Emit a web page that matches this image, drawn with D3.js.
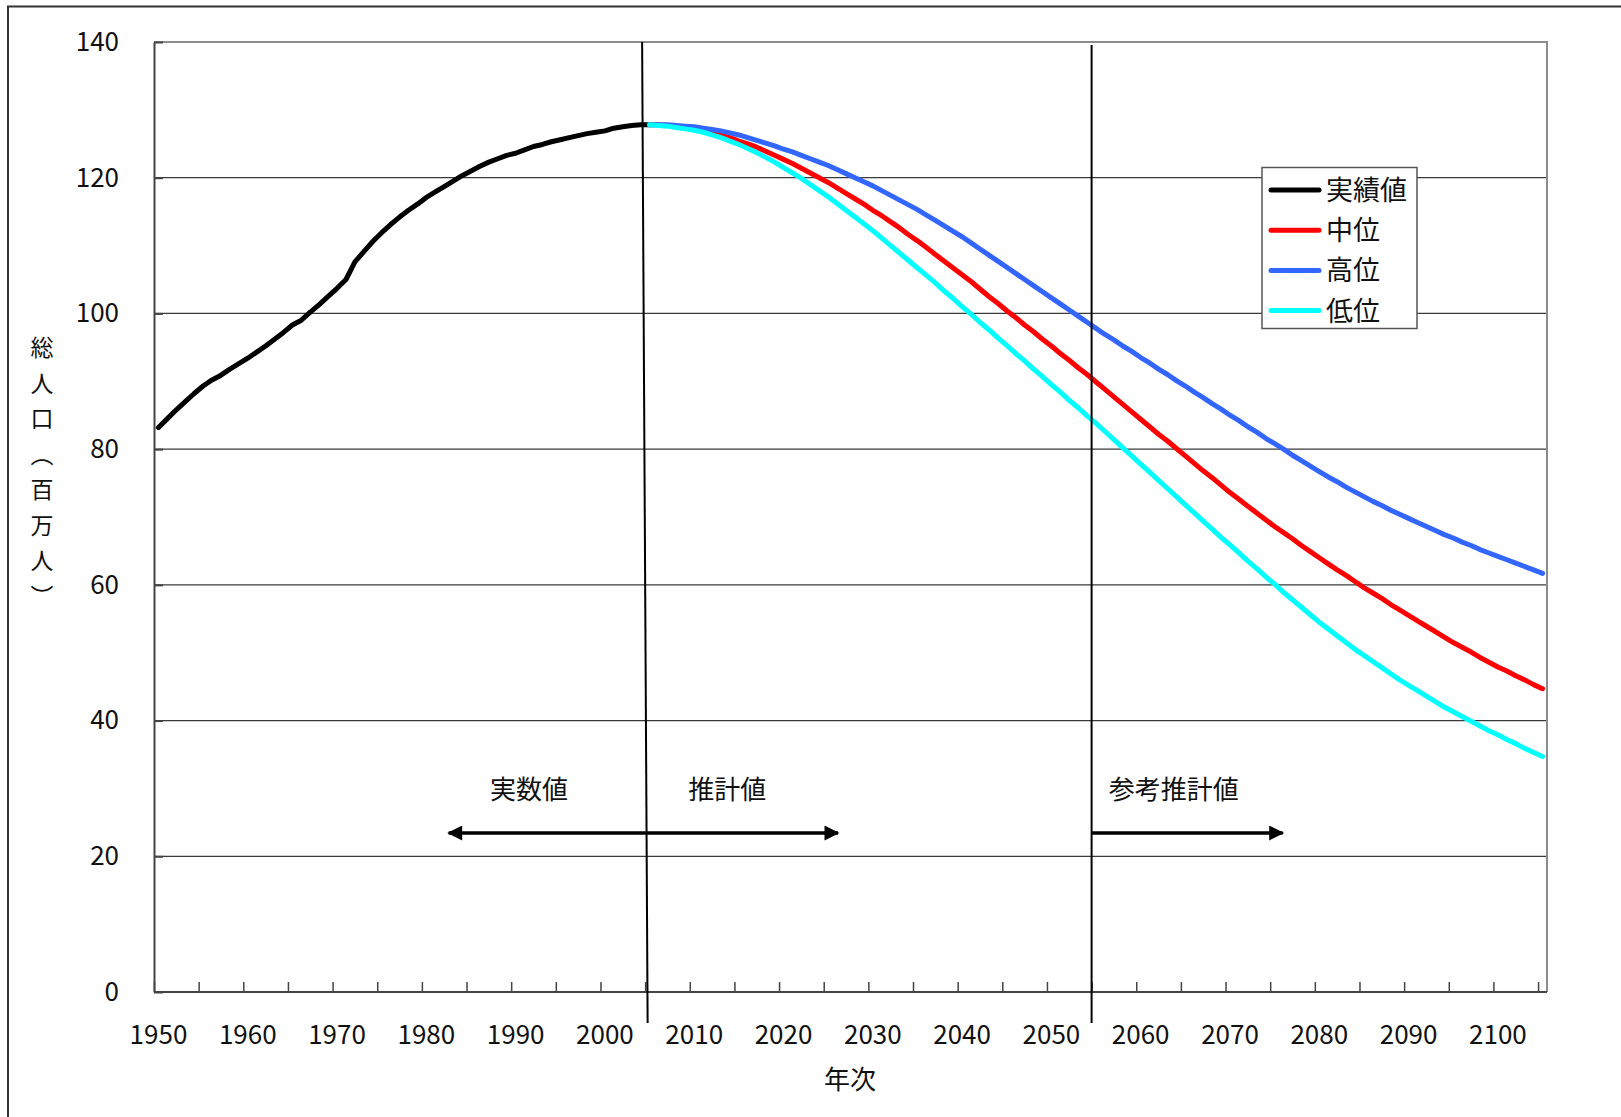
<!DOCTYPE html>
<html>
<head>
<meta charset="utf-8">
<script src="https://cdn.jsdelivr.net/npm/d3@7"></script>
<style>
  html, body { margin: 0; padding: 0; background: #fff; }
  svg { display: block; font-family: "Noto Sans CJK JP", "Noto Sans", sans-serif; }
</style>
</head>
<body>
<svg id="chart" width="1621" height="1117"></svg>
<script>
// 総人口（百万人）: 実績値 1950–2005
const actualStartYear = 1950;
const actualValues = [
  83.2, 84.5, 85.8, 87.0, 88.2, 89.3, 90.2, 90.9, 91.8, 92.6,
  93.4, 94.3, 95.2, 96.2, 97.2, 98.3, 99.0, 100.2, 101.3, 102.5,
  103.7, 105.0, 107.6, 109.1, 110.6, 111.9, 113.1, 114.2, 115.2, 116.1,
  117.1, 117.9, 118.7, 119.5, 120.3, 121.0, 121.7, 122.3, 122.8, 123.3,
  123.6, 124.1, 124.6, 124.9, 125.3, 125.6, 125.9, 126.2, 126.5, 126.7,
  126.9, 127.3, 127.5, 127.7, 127.8, 127.8
];

// 推計値 2005–2105
const projStartYear = 2005;
const mediumValues = [
  127.8, 127.8, 127.7, 127.6, 127.4, 127.2, 126.9, 126.6, 126.3, 125.9,
  125.4, 125.0, 124.5, 123.9, 123.3, 122.7, 122.1, 121.4, 120.7, 120.0,
  119.3, 118.5, 117.7, 116.9, 116.1, 115.2, 114.4, 113.5, 112.6, 111.6,
  110.7, 109.7, 108.7, 107.7, 106.7, 105.7, 104.7, 103.6, 102.5, 101.5,
  100.4, 99.4, 98.3, 97.3, 96.2, 95.2, 94.1, 93.1, 92.0, 91.0,
  89.9, 88.8, 87.7, 86.6, 85.5, 84.4, 83.3, 82.2, 81.2, 80.1,
  79.0, 77.9, 76.8, 75.8, 74.7, 73.6, 72.6, 71.6, 70.6, 69.6,
  68.6, 67.7, 66.8, 65.8, 64.9, 64.0, 63.1, 62.2, 61.4, 60.5,
  59.6, 58.8, 58.0, 57.1, 56.3, 55.5, 54.7, 53.9, 53.1, 52.3,
  51.5, 50.8, 50.1, 49.3, 48.6, 47.9, 47.3, 46.6, 46.0, 45.3,
  44.7
];
const highValues = [
  127.8, 127.8, 127.8, 127.7, 127.6, 127.5, 127.3, 127.1, 126.9, 126.6,
  126.3, 125.9, 125.5, 125.1, 124.7, 124.2, 123.8, 123.3, 122.8, 122.3,
  121.8, 121.2, 120.6, 120.0, 119.4, 118.8, 118.1, 117.4, 116.7, 116.0,
  115.3, 114.5, 113.7, 112.9, 112.1, 111.3, 110.4, 109.5, 108.6, 107.7,
  106.8, 105.9, 105.0, 104.1, 103.2, 102.3, 101.4, 100.5, 99.6, 98.7,
  97.8, 96.9, 96.1, 95.2, 94.4, 93.5, 92.7, 91.8, 91.0, 90.1,
  89.3, 88.4, 87.6, 86.7, 85.9, 85.0, 84.2, 83.3, 82.5, 81.6,
  80.8, 80.0, 79.1, 78.3, 77.5, 76.7, 75.9, 75.2, 74.4, 73.7,
  73.0, 72.3, 71.7, 71.0, 70.4, 69.8, 69.2, 68.6, 68.0, 67.4,
  66.9, 66.3, 65.8, 65.2, 64.7, 64.2, 63.7, 63.2, 62.7, 62.2,
  61.7
];
const lowValues = [
  127.8, 127.7, 127.6, 127.4, 127.2, 127.0, 126.7, 126.3, 125.9, 125.4,
  124.9, 124.3, 123.7, 123.0, 122.3, 121.5, 120.7, 119.9, 119.0, 118.1,
  117.2, 116.2, 115.2, 114.2, 113.2, 112.2, 111.1, 110.0, 108.9, 107.8,
  106.7, 105.6, 104.5, 103.3, 102.2, 101.0, 99.9, 98.7, 97.6, 96.4,
  95.3, 94.1, 93.0, 91.8, 90.7, 89.5, 88.4, 87.2, 86.1, 84.9,
  83.8, 82.6, 81.4, 80.2, 79.0, 77.8, 76.6, 75.4, 74.2, 73.0,
  71.8, 70.6, 69.4, 68.2, 67.0, 65.9, 64.7, 63.5, 62.4, 61.2,
  60.1, 58.9, 57.8, 56.7, 55.6, 54.5, 53.5, 52.5, 51.5, 50.5,
  49.6, 48.7, 47.8, 46.9, 46.0, 45.2, 44.4, 43.6, 42.8, 42.0,
  41.3, 40.6, 39.9, 39.2, 38.5, 37.9, 37.2, 36.6, 35.9, 35.3,
  34.7
];

const seriesNames  = ["実績値", "中位", "高位", "低位"];
const seriesColors = ["#000000", "#ff0000", "#3366ff", "#00ffff"];

const yTickValues = [0, 20, 40, 60, 80, 100, 120, 140];
const xLabelYears = [1950, 1960, 1970, 1980, 1990, 2000, 2010, 2020, 2030, 2040, 2050, 2060, 2070, 2080, 2090, 2100];
const xTickStep = 5;
const firstYear = 1950, lastYear = 2105;

// period markers and annotations
const periodLines = [2005, 2055];
const periodLabels = [
  { text: "実数値",     year: 1992.0 },
  { text: "推計値",     year: 2014.2 },
  { text: "参考推計値", year: 2064.2 }
];
const periodArrows = [
  { from: 1983.0, to: 2026.6, both: true },
  { from: 2055.0, to: 2076.4, both: false }
];

const yTitle = "総人口（百万人）";
const xTitle = "年次";

// ---------------------------------------------------------------
const svg = d3.select("#chart");
const plot = { left: 154, right: 1547, top: 42, bottom: 992 };

// one category per year; a year's point sits at the centre of its slot
const x = d3.scaleLinear().domain([firstYear, lastYear + 1]).range([plot.left, plot.right]);
const xc = yr => x(yr + 0.5);
const y = d3.scaleLinear().domain([0, 140]).range([plot.bottom, plot.top]);

// outer frame (runs off the right and bottom edges)
svg.append("path")
  .attr("d", "M8,1130 L8,6.5 L1640,6.5")
  .attr("fill", "none").attr("stroke", "#333").attr("stroke-width", 2);

// horizontal gridlines
svg.append("g").selectAll("line")
  .data(yTickValues.filter(v => v > 0 && v < 140))
  .join("line")
  .attr("x1", plot.left).attr("x2", plot.right)
  .attr("y1", d => y(d)).attr("y2", d => y(d))
  .attr("stroke", "#3a3a3a").attr("stroke-width", 1.2);

// top and right plot border
svg.append("path")
  .attr("d", `M${plot.left},${y(140)} L${plot.right},${y(140)} L${plot.right},${plot.bottom}`)
  .attr("fill", "none").attr("stroke", "#8c8c8c").attr("stroke-width", 2);

// y axis
const yAxis = d3.axisLeft(y).tickValues(yTickValues).tickSizeInner(-9).tickSizeOuter(0).tickPadding(35);
const gy = svg.append("g").attr("transform", `translate(${plot.left},0)`).call(yAxis);
gy.select(".domain").attr("stroke", "#444").attr("stroke-width", 2);
gy.selectAll(".tick line").attr("stroke", "#444").attr("stroke-width", 2);
gy.selectAll(".tick text")
  .attr("font-size", 26).attr("fill", "#111")
  .attr("font-family", "'Noto Sans CJK JP', sans-serif");

// x axis: tick marks every 5 years on slot boundaries, labels every 10 years on slot centres
const xTicks = d3.axisBottom(x)
  .tickValues(d3.range(firstYear, lastYear + 1, xTickStep))
  .tickSizeInner(-10).tickSizeOuter(0).tickFormat("");
const gx = svg.append("g").attr("transform", `translate(0,${plot.bottom})`).call(xTicks);
gx.select(".domain").attr("stroke", "#444").attr("stroke-width", 2)
  .attr("d", `M${plot.left},0H${plot.right}`);
gx.selectAll(".tick line").attr("stroke", "#444").attr("stroke-width", 1.5);

svg.append("g").selectAll("text")
  .data(xLabelYears)
  .join("text")
  .attr("x", d => xc(d)).attr("y", plot.bottom + 52)
  .attr("text-anchor", "middle")
  .attr("font-size", 26).attr("fill", "#111")
  .text(d => d);

// axis titles
svg.append("text")
  .attr("x", 850).attr("y", 1089)
  .attr("text-anchor", "middle")
  .attr("font-size", 26).attr("fill", "#111")
  .text(xTitle);

svg.append("text")
  .attr("x", 42).attr("y", 478)
  .attr("writing-mode", "vertical-rl")
  .attr("text-anchor", "middle")
  .style("letter-spacing", "12.5px")
  .attr("font-size", 23).attr("fill", "#111")
  .text(yTitle);

// series lines
const series = [
  { name: seriesNames[0], color: seriesColors[0], start: actualStartYear, values: actualValues },
  { name: seriesNames[1], color: seriesColors[1], start: projStartYear, values: mediumValues },
  { name: seriesNames[2], color: seriesColors[2], start: projStartYear, values: highValues },
  { name: seriesNames[3], color: seriesColors[3], start: projStartYear, values: lowValues }
];
const line = d3.line().x(d => xc(d.year)).y(d => y(d.value));
svg.append("g").selectAll("path")
  .data(series)
  .join("path")
  .attr("d", s => line(s.values.map((v, i) => ({ year: s.start + i, value: v }))))
  .attr("fill", "none")
  .attr("stroke", s => s.color)
  .attr("stroke-width", 5)
  .attr("stroke-linejoin", "round")
  .attr("stroke-linecap", "round");

// period divider lines
svg.append("line")
  .attr("x1", x(periodLines[0]) - 3).attr("y1", plot.top)
  .attr("x2", x(periodLines[0]) + 2.5).attr("y2", 1023)
  .attr("stroke", "#000").attr("stroke-width", 2);
svg.append("line")
  .attr("x1", x(periodLines[1])).attr("y1", 45)
  .attr("x2", x(periodLines[1])).attr("y2", 1023)
  .attr("stroke", "#000").attr("stroke-width", 2);

// period labels and arrows
svg.append("g").selectAll("text")
  .data(periodLabels)
  .join("text")
  .attr("x", d => x(d.year)).attr("y", 799)
  .attr("text-anchor", "middle")
  .attr("font-size", 26).attr("fill", "#111")
  .text(d => d.text);

const defs = svg.append("defs");
defs.append("marker")
  .attr("id", "arrowHead")
  .attr("viewBox", "0 0 10 10")
  .attr("refX", 9).attr("refY", 5)
  .attr("markerUnits", "userSpaceOnUse")
  .attr("markerWidth", 18).attr("markerHeight", 15)
  .attr("orient", "auto-start-reverse")
  .append("path").attr("d", "M0,0 L10,5 L0,10 Z").attr("fill", "#000");

const arrowY = 833;
svg.append("g").selectAll("line")
  .data(periodArrows)
  .join("line")
  .attr("x1", d => x(d.from)).attr("x2", d => x(d.to))
  .attr("y1", arrowY).attr("y2", arrowY)
  .attr("stroke", "#000").attr("stroke-width", 3.5)
  .attr("marker-end", "url(#arrowHead)")
  .attr("marker-start", d => d.both ? "url(#arrowHead)" : null);

// legend
const legend = svg.append("g").attr("transform", "translate(1262,167.5)");
legend.append("rect")
  .attr("width", 155).attr("height", 161)
  .attr("fill", "#fff").attr("stroke", "#555").attr("stroke-width", 1.5);
const item = legend.selectAll("g.item")
  .data(series)
  .join("g").attr("class", "item")
  .attr("transform", (d, i) => `translate(0,${22.5 + i * 40.2})`);
item.append("line")
  .attr("x1", 9).attr("x2", 57)
  .attr("stroke", d => d.color).attr("stroke-width", 5).attr("stroke-linecap", "round");
item.append("text")
  .attr("x", 64).attr("y", 10)
  .attr("font-size", 27).attr("fill", "#111")
  .text(d => d.name);
</script>
</body>
</html>
